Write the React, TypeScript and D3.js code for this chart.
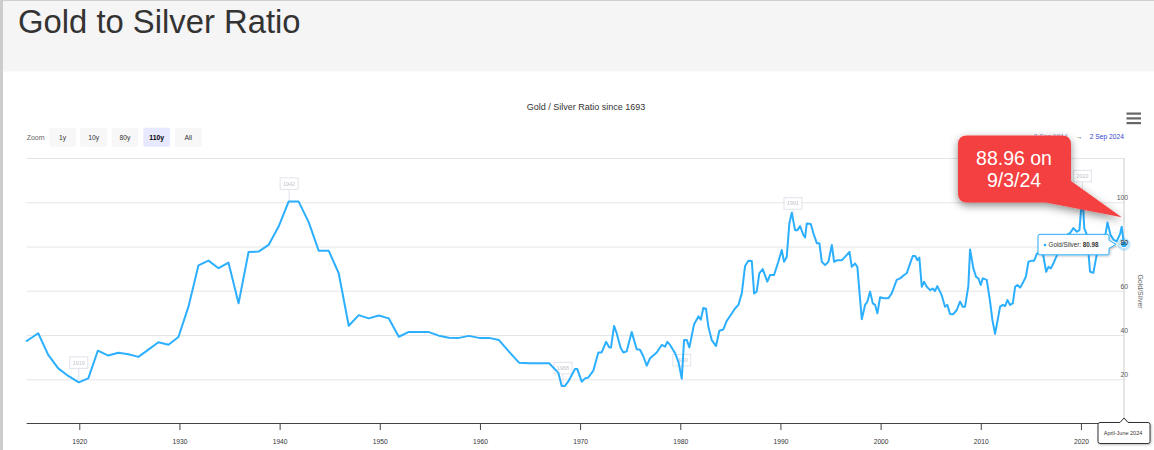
import React from 'react';
import * as d3 from 'd3';

// ---- data ----
const years = [
  1914.7, 1915.85, 1916.85, 1917.85, 1918.85, 1919.9, 1920.85, 1921.8, 1922.85, 1923.85, 1924.85, 1925.85,
  1926.85, 1927.85, 1928.85, 1929.85, 1930.85, 1931.85, 1932.85, 1933.85, 1934.85, 1935.85, 1936.85,
  1937.85, 1938.85, 1939.85, 1940.85, 1941.85, 1942.85, 1943.85, 1944.85, 1945.85, 1946.85, 1947.85,
  1948.85, 1949.85, 1950.85, 1951.85, 1952.85, 1953.85, 1954.85, 1955.85, 1956.85, 1957.85, 1958.85,
  1959.85, 1960.85, 1961.85, 1962.85, 1963.85, 1964.85, 1965.85, 1966.85, 1967.77,
  1968.11, 1968.44, 1968.77, 1969.44, 1969.67, 1970.11, 1970.44, 1970.77, 1971.27, 1971.77, 1972.1,
  1972.54, 1972.87, 1973.04, 1973.34, 1973.6, 1974.0, 1974.27, 1974.6, 1975.1, 1975.6, 1975.93,
  1976.26, 1976.6, 1976.93, 1977.6, 1978.1, 1978.43, 1978.66, 1978.93, 1979.43, 1979.76, 1980.1,
  1980.33, 1980.6, 1980.86, 1981.33, 1981.76, 1982.0, 1982.25, 1982.52, 1982.75, 1983.09, 1983.52,
  1983.85, 1984.25, 1984.59, 1985.09, 1985.42, 1985.75, 1986.09, 1986.42, 1986.75, 1987.09, 1987.32,
  1987.58, 1987.84, 1988.18, 1988.64, 1988.91, 1989.31, 1989.74, 1990.08, 1990.31, 1990.58, 1990.84,
  1991.08, 1991.41, 1991.64, 1991.91, 1992.24, 1992.41, 1992.58, 1992.98, 1993.24, 1993.58, 1993.84,
  1994.08, 1994.41, 1994.74, 1995.08, 1995.31, 1995.64, 1996.07, 1996.4, 1996.84, 1997.07, 1997.4,
  1997.63, 1998.07, 1998.4, 1998.63, 1998.9, 1999.17, 1999.4, 1999.63, 1999.9, 2000.3, 2000.73,
  2001.06, 2001.56, 2001.9, 2002.3, 2002.56, 2002.9, 2003.16, 2003.4, 2003.62, 2003.82, 2004.06,
  2004.29, 2004.56, 2004.89, 2005.15, 2005.38, 2005.61, 2006.05, 2006.38, 2006.61, 2006.88, 2007.21,
  2007.55, 2007.88, 2008.15, 2008.38, 2008.71, 2008.88, 2009.21, 2009.48, 2009.71, 2009.95, 2010.15,
  2010.55, 2010.88, 2011.11, 2011.38, 2011.61, 2011.88, 2012.15, 2012.38, 2012.61, 2012.88, 2013.15,
  2013.38, 2013.61, 2013.88, 2014.21, 2014.45, 2014.71, 2015.05, 2015.28, 2015.55, 2015.81, 2016.15,
  2016.48, 2016.71, 2016.95, 2017.21, 2017.48, 2017.7, 2018.0, 2018.3, 2018.55, 2018.85, 2019.2,
  2019.55, 2019.8, 2020.1, 2020.28, 2020.55, 2020.86, 2021.19, 2021.52, 2021.85, 2022.18, 2022.6,
  2022.9, 2023.2, 2023.52, 2023.85, 2024.02, 2024.25,
];
const ratios = [
  37.3, 40.8, 31.0, 24.9, 21.5, 18.6, 20.4, 32.9, 30.7, 32.0, 31.3, 30.1,
  33.4, 36.7, 35.6, 39.1, 52.8, 71.5, 73.6, 70.2, 72.7, 54.3, 77.5,
  77.7, 80.7, 89.0, 100.3, 100.3, 91.0, 78.1, 78.1, 67.9, 44.2, 49.0,
  47.5, 48.8, 47.5, 39.2, 41.4, 41.3, 41.3, 39.7, 38.8, 38.7, 39.6,
  38.7, 38.7, 37.7, 32.5, 27.5, 27.2, 27.2, 27.2, 23.0,
  16.9, 17.0, 19.0, 24.6, 24.6, 18.9, 20.4, 20.8, 23.9, 32.1, 32.1,
  36.9, 34.4, 34.4, 44.1, 40.8, 34.1, 32.1, 32.6, 41.4, 33.6, 33.3,
  30.4, 26.1, 29.5, 32.1, 35.5, 34.7, 36.9, 35.5, 31.8, 28.0, 20.2,
  37.7, 37.7, 34.4, 44.9, 48.4, 46.9, 52.2, 51.9, 43.9, 37.7, 35.0,
  41.9, 42.5, 46.4, 49.7, 52.0, 53.6, 58.8, 71.2, 73.6, 73.4, 58.8,
  59.6, 67.9, 69.8, 64.1, 67.1, 67.1, 73.1, 78.4, 73.1, 75.3, 90.4,
  95.3, 87.4, 87.4, 89.2, 85.2, 84.1, 90.4, 90.2, 86.0, 81.5, 81.5,
  73.1, 71.6, 73.1, 80.7, 73.1, 73.8, 73.8, 75.3, 77.6, 70.8, 72.3,
  70.8, 47.1, 53.6, 55.1, 59.6, 54.3, 53.6, 49.8, 57.1, 56.6, 56.6,
  58.8, 64.9, 65.6, 67.1, 67.9, 72.4, 75.7, 75.7, 73.8, 75.0, 61.8,
  64.1, 61.8, 60.3, 61.0, 59.9, 62.1, 58.0, 52.8, 53.6, 49.5, 49.4,
  51.3, 55.1, 52.8, 52.8, 62.1, 78.7, 70.1, 66.3, 65.6, 62.6, 65.6,
  64.9, 55.1, 46.8, 40.5, 46.1, 52.8, 53.6, 53.1, 55.8, 53.6, 54.3,
  61.8, 62.6, 61.4, 64.1, 66.3, 73.1, 73.6, 73.6, 76.7, 77.5, 77.0,
  68.6, 70.8, 70.1, 72.4, 75.3, 77.5, 80.5, 79.0, 85.3, 86.0, 88.3,
  86.7, 87.4, 104.0, 88.3, 85.3, 68.6, 68.1, 76.2, 80.7, 79.8, 90.8,
  85.3, 83.1, 82.3, 85.6, 88.9, 80.98,
];

const xTickYears = [1920, 1930, 1940, 1950, 1960, 1970, 1980, 1990, 2000, 2010, 2020];
const yTickValues = [20, 40, 60, 80, 100];
const yGridValues = [20, 40, 60, 80, 100, 120];

const flagLabels = ['1919', '1942', '1968', '1980', '1991', '2020'];
const flagYears = [1919.9, 1940.9, 1968.25, 1980.1, 1991.2, 2020.1];
const flagValues = [19.5, 100.4, 17.0, 20.6, 91.4, 103.8];

const zoomButtons = ['1y', '10y', '80y', '110y', 'All'];
const selectedButton = '110y';

const pageTitle = 'Gold to Silver Ratio';
const chartTitle = 'Gold / Silver Ratio since 1693';
const rangeFrom = '2 Sep 1914';
const rangeTo = '2 Sep 2024';
const seriesName = 'Gold/Silver';
const lastValueText = '80.98';
const lastPeriodText = 'April-June 2024';
const calloutLines = ['88.96 on', '9/3/24'];
const calloutValue = 93.2;
const calloutYear = 2024.02;

const LINE = '#2caffe';
const FONT = '"Liberation Sans", Arial, Helvetica, sans-serif';

export default function App() {
  const W = 1154;
  const H = 450;
  const x = d3.scaleLinear().domain([1914.7, 2024.25]).range([26.7, 1124]);
  const y = d3.scaleLinear().domain([0, 120]).range([423.5, 158]);
  const pts: [number, number][] = years.map((yr, i) => [yr, ratios[i]]);
  const line = d3
    .line<[number, number]>()
    .x((d) => x(d[0]))
    .y((d) => y(d[1]))
    .curve(d3.curveLinear);

  const last = pts[pts.length - 1];
  const lx = x(last[0]);
  const ly = y(last[1]);

  // button layout
  const btnW = [26.7, 27.3, 26.6, 26.7, 26.7];
  const btnX = [49.3, 80, 111.7, 143.3, 175];

  const tipX = x(calloutYear);
  const tipY = y(calloutValue);

  return (
    <svg
      width={W}
      height={H}
      style={{ position: 'absolute', left: 0, top: 0, fontFamily: FONT }}
    >
      <defs>
        <filter id="cshadow" x="-30%" y="-30%" width="160%" height="170%">
          <feDropShadow dx="0" dy="3" stdDeviation="4" floodColor="#000" floodOpacity="0.45" />
        </filter>
        <filter id="tshadow" x="-20%" y="-30%" width="140%" height="170%">
          <feDropShadow dx="1" dy="1" stdDeviation="1.2" floodColor="#000" floodOpacity="0.25" />
        </filter>
      </defs>
      <rect x={0} y={0} width={W} height={H} fill="#fff" />
      {/* header */}
      <rect x={0} y={0} width={W} height={71.5} fill="#f5f5f5" />
      <rect x={0} y={0} width={W} height={1} fill="#cfcfcf" />
      <rect x={0} y={0} width={3} height={H} fill="#cccccc" />
      <text x={18} y={33} fontSize={32.8} fill="#333">
        {pageTitle}
      </text>

      {/* chart title */}
      <text x={586} y={110} fontSize={9} fill="#333" textAnchor="middle">
        {chartTitle}
      </text>

      {/* zoom buttons */}
      <text x={26.7} y={140} fontSize={7} fill="#666">
        Zoom
      </text>
      {zoomButtons.map((b, i) => (
        <g key={b}>
          <rect
            x={btnX[i]}
            y={127.7}
            width={btnW[i]}
            height={19}
            rx={2}
            fill={b === selectedButton ? '#e6e9ff' : '#f7f7f7'}
          />
          <text
            x={btnX[i] + btnW[i] / 2}
            y={140}
            fontSize={6.8}
            textAnchor="middle"
            fill={b === selectedButton ? '#000' : '#333'}
            fontWeight={b === selectedButton ? 'bold' : 'normal'}
          >
            {b}
          </text>
        </g>
      ))}

      {/* range text */}
      <text x={1068} y={139} fontSize={6.7} fill="#3344cc" textAnchor="end" opacity={0.55}>
        {rangeFrom}
      </text>
      <text x={1079} y={139} fontSize={6.7} fill="#333" textAnchor="middle">
        →
      </text>
      <text x={1124} y={139} fontSize={6.7} fill="#3344cc" textAnchor="end">
        {rangeTo}
      </text>

      {/* hamburger */}
      {[112.5, 117.3, 122].map((yy) => (
        <rect key={yy} x={1126.5} y={yy} width={14.5} height={2.2} fill="#666" />
      ))}

      {/* grid */}
      {yGridValues.map((v) => (
        <line key={v} x1={26.7} x2={1124} y1={y(v) + 0.5} y2={y(v) + 0.5} stroke="#e6e6e6" strokeWidth={1} />
      ))}

      {/* crosshair */}
      <line x1={lx} x2={lx} y1={y(120)} y2={y(0)} stroke="#cccccc" strokeWidth={1} />

      {/* x axis */}
      <line x1={26.7} x2={1124} y1={y(0)} y2={y(0)} stroke="#444" strokeWidth={1} />
      {xTickYears.map((t) => (
        <g key={t}>
          <line x1={x(t)} x2={x(t)} y1={y(0)} y2={y(0) + 6.5} stroke="#444" strokeWidth={1} />
          <text x={x(t)} y={444} fontSize={6.7} fill="#333" textAnchor="middle">
            {t}
          </text>
        </g>
      ))}

      {/* y labels */}
      {yTickValues.map((v) => (
        <text key={v} x={1128} y={y(v) - 2} fontSize={6.8} fill="#555" textAnchor="end">
          {v}
        </text>
      ))}
      <text
        transform={`translate(1137.5, 291.5) rotate(90)`}
        fontSize={7}
        fill="#666"
        textAnchor="middle"
      >
        {seriesName}
      </text>

      {/* flags */}
      {flagLabels.map((lab, i) => {
        const fx = x(flagYears[i]);
        const fy = y(flagValues[i]);
        return (
          <g key={lab} opacity={0.9}>
            <line x1={fx} x2={fx} y1={fy} y2={fy - 12} stroke="#dde0ea" strokeWidth={1} />
            <rect x={fx - 9} y={fy - 23.5} width={18} height={11.5} fill="#fff" stroke="#dde0ea" strokeWidth={1} />
            <text x={fx} y={fy - 15.8} fontSize={5.4} fill="#b8b8c4" textAnchor="middle">
              {lab}
            </text>
          </g>
        );
      })}

      {/* series line */}
      <path d={line(pts) || ''} fill="none" stroke={LINE} strokeWidth={2} strokeLinejoin="round" strokeLinecap="round" />

      {/* hover marker */}
      <circle cx={lx} cy={ly} r={6.5} fill={LINE} opacity={0.28} />
      <circle cx={lx} cy={ly} r={3.5} fill={LINE} stroke="#fff" strokeWidth={1} />
      <text x={1128} y={y(80) - 2} fontSize={6.8} fill="#333" textAnchor="end">
        80
      </text>

      {/* tooltip */}
      <g filter="url(#tshadow)">
        <path
          d={`M ${lx - 84} ${ly - 10} H ${lx - 17} Q ${lx - 15} ${ly - 10} ${lx - 15} ${ly - 8} V ${ly - 4} L ${lx - 8} ${ly} L ${lx - 15} ${ly + 4} V ${ly + 8.5} Q ${lx - 15} ${ly + 10.5} ${lx - 17} ${ly + 10.5} H ${lx - 84} Q ${lx - 86} ${ly + 10.5} ${lx - 86} ${ly + 8.5} V ${ly - 8} Q ${lx - 86} ${ly - 10} ${lx - 84} ${ly - 10} Z`}
          fill="#fff"
          fillOpacity={0.96}
          stroke={LINE}
          strokeWidth={1}
        />
      </g>
      <circle cx={lx - 79} cy={ly + 0.7} r={1.3} fill={LINE} />
      <text x={lx - 75.5} y={ly + 3} fontSize={6.3} fill="#333">
        {seriesName}: <tspan fontWeight="bold">{lastValueText}</tspan>
      </text>

      {/* navigator tooltip */}
      <g filter="url(#tshadow)">
        <path
          d={`M 1100 422.5 H ${lx - 4} L ${lx} 418 L ${lx + 4} 422.5 H 1148 Q 1150 422.5 1150 424.5 V 441.5 Q 1150 443.5 1148 443.5 H 1100 Q 1098 443.5 1098 441.5 V 424.5 Q 1098 422.5 1100 422.5 Z`}
          fill="#fff"
          stroke="#333"
          strokeWidth={1}
        />
      </g>
      <text x={1123} y={435} fontSize={5.5} fill="#333" textAnchor="middle">
        {lastPeriodText}
      </text>

      {/* red callout */}
      <g filter="url(#cshadow)">
        <path
          d={`M 967 135.5 H 1062 Q 1071 135.5 1071 144.5 V 181 L ${tipX} ${tipY} L 1046 202.5 H 967 Q 958 202.5 958 193.5 V 144.5 Q 958 135.5 967 135.5 Z`}
          fill="#f44040"
        />
      </g>
      <text x={1014} y={165} fontSize={19.5} fill="#fff" textAnchor="middle">
        {calloutLines[0]}
      </text>
      <text x={1014} y={187} fontSize={19.5} fill="#fff" textAnchor="middle">
        {calloutLines[1]}
      </text>
    </svg>
  );
}
